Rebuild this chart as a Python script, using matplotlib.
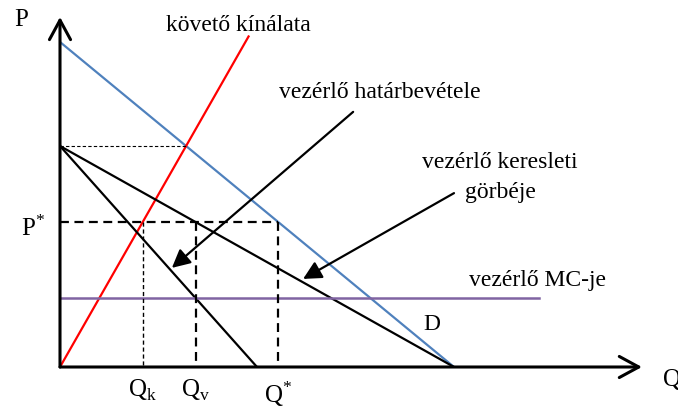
import matplotlib.pyplot as plt

plt.rcParams['font.family'] = ['Liberation Serif', 'DejaVu Serif']
plt.rcParams['mathtext.fontset'] = 'custom'
plt.rcParams['mathtext.rm'] = 'Liberation Serif'

# curves as (Q endpoints, P endpoints)
market_q, market_p = [0, 10], [10, 0]
follower_q, follower_p = [0, 4.8], [0, 10.2]
leader_q, leader_p = [0, 10], [6.8, 0]
mr_q, mr_p = [0, 5], [6.8, 0]
mc_q, mc_level = [0, 12.15], 2.12

# price where the follower covers the whole market
q_top, p_top = 3.2, 6.8
# leader's optimum
p_star = 4.46
q_k, q_v, q_star = 2.1, 3.44, 5.54

q_max, p_max = 14.77, 10.77

fig = plt.figure(figsize=(6.78, 4.12), dpi=100)
ax = fig.add_axes([60 / 678, 45 / 412, 15 * 39.4 / 678, 11 * 32.5 / 412])
ax.set_xlim(0, 15)
ax.set_ylim(0, 11)
ax.axis('off')

# axes with open arrow heads
axis_arrow = dict(arrowstyle='->,head_length=0.7,head_width=0.38', lw=2.2,
                  color='black', mutation_scale=20, shrinkA=0, shrinkB=0)
ax.annotate('', xy=(q_max, 0), xytext=(0, 0), arrowprops=axis_arrow)
ax.annotate('', xy=(0, p_max), xytext=(0, 0), arrowprops=axis_arrow)

ax.plot(market_q, market_p, color='#4f81bd', lw=1.6, solid_capstyle='butt')
ax.plot(follower_q, follower_p, color='#ff0000', lw=1.6, solid_capstyle='butt')
ax.plot(leader_q, leader_p, color='black', lw=1.6)
ax.plot(mr_q, mr_p, color='black', lw=1.6)
ax.plot(mc_q, [mc_level, mc_level], color='#8064a2', lw=1.8)

# guide lines
ax.plot([0, q_top], [p_top, p_top], color='black', lw=0.8, dashes=(3, 2))
ax.plot([0, q_star], [p_star, p_star], color='black', lw=1.6, dashes=(4, 2.5))
ax.plot([q_star, q_star], [p_star, 0], color='black', lw=1.6, dashes=(4, 2.5))
ax.plot([q_v, q_v], [p_star, 0], color='black', lw=1.6, dashes=(4, 2.5))
ax.plot([q_k, q_k], [p_star, 0], color='black', lw=1.0, dashes=(3, 2))

# pointers from the labels
pointer = dict(arrowstyle='-|>,head_length=0.55,head_width=0.28', lw=1.6,
               color='black', mutation_scale=20, shrinkA=0, shrinkB=0)
ax.annotate('', xy=(2.84, 3.05), xytext=(7.44, 7.85), arrowprops=pointer)
ax.annotate('', xy=(6.17, 2.71), xytext=(10.0, 5.35), arrowprops=pointer)

fs = 17
ax.text(-0.99, 10.68, 'P', fontsize=18, ha='center', va='center')
ax.text(15.3, -0.4, 'Q', fontsize=18, ha='left', va='center')
ax.text(4.52, 10.52, 'követő kínálata', fontsize=fs, ha='center', va='center')
ax.text(8.12, 8.46, 'vezérlő határbevétele', fontsize=fs, ha='center', va='center')
ax.text(11.17, 6.28, 'vezérlő keresleti', fontsize=fs, ha='center', va='center')
ax.text(11.17, 5.38, 'görbéje', fontsize=fs, ha='center', va='center')
ax.text(12.11, 2.65, 'vezérlő MC-je', fontsize=fs, ha='center', va='center')
ax.text(9.44, 1.32, 'D', fontsize=fs, ha='center', va='center')

ax.text(-0.69, p_star - 0.2, r'$\mathrm{P}^{*}$', fontsize=18, ha='center', va='center')
ax.text(q_k, -0.72, r'$\mathrm{Q}_{\mathrm{k}}$', fontsize=18, ha='center', va='center')
ax.text(q_v, -0.72, r'$\mathrm{Q}_{\mathrm{v}}$', fontsize=18, ha='center', va='center')
ax.text(q_star, -0.85, r'$\mathrm{Q}^{*}$', fontsize=18, ha='center', va='center')

fig.savefig('out.png', dpi=100)
